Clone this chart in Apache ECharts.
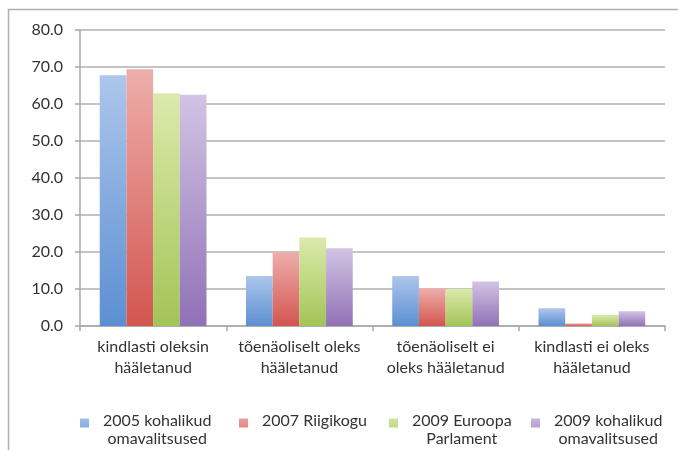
<!DOCTYPE html>
<html>
<head>
<meta charset="utf-8">
<script src="https://cdn.jsdelivr.net/npm/echarts@6/dist/echarts.min.js"></script>
<style>html,body{margin:0;padding:0;background:#fff;}#c{width:678px;height:450px;}</style>
</head>
<body>
<div id="c"></div>
<script>
const categories = ['kindlasti oleksin\nhääletanud', 'tõenäoliselt oleks\nhääletanud', 'tõenäoliselt ei\noleks hääletanud', 'kindlasti ei oleks\nhääletanud'];
const seriesNames = ['2005 kohalikud\nomavalitsused', '2007 Riigikogu', '2009 Euroopa\nParlament', '2009 kohalikud\nomavalitsused'];
const values2005 = [67.8, 13.5, 13.5, 4.8];
const values2007 = [69.4, 19.9, 10.2, 0.7];
const values2009ep = [62.9, 23.9, 10.0, 3.0];
const values2009kov = [62.5, 21.0, 12.0, 4.0];
const yTicks = [0, 10, 20, 30, 40, 50, 60, 70, 80];

const seriesValues = [values2005, values2007, values2009ep, values2009kov];
const gradients = [
  ['#adc6ec', '#5c8fd2'],
  ['#eeaeab', '#d3554f'],
  ['#dbeaab', '#a3c457'],
  ['#d2c4e4', '#9171b6']
];
const legendColors = ['#8fb0e0', '#e08480', '#c4da86', '#b09ccf'];
const legendLeft = [80, 239, 389, 531];
const font = 'Lato, "Open Sans", sans-serif';

const chart = echarts.init(document.getElementById('c'), null, {renderer: 'canvas'});

const legends = seriesNames.map((n, i) => ({
  data: [n],
  left: legendLeft[i],
  top: 412,
  orient: 'horizontal',
  itemWidth: 9,
  itemHeight: 36,
  itemGap: 0,
  icon: 'path://M0,0h0.05v0.05h-0.05z M0,6.5h9v9h-9z M0,35.95h0.05v0.05h-0.05z',
  selectedMode: false,
  padding: 0,
  formatter: function (name) {
    const lines = name.split('\n');
    if (lines.length < 2) lines.push(' ');
    return lines.map(l => '{c|' + l + '}').join('\n');
  },
  textStyle: {
    fontFamily: font,
    fontSize: 16,
    color: '#333',
    padding: [0, 0, 0, 9],
    rich: {c: {align: 'center', fontFamily: font, fontSize: 16, color: '#333', lineHeight: 18}}
  }
}));

const series = seriesValues.map((vals, i) => ({
  name: seriesNames[i],
  type: 'bar',
  data: vals,
  barGap: '0%',
  barCategoryGap: '27%',
  itemStyle: {
    color: new echarts.graphic.LinearGradient(0, 0, 0, 1, [
      {offset: 0, color: gradients[i][0]},
      {offset: 1, color: gradients[i][1]}
    ])
  },
  emphasis: {disabled: true}
}));

chart.setOption({
  animation: false,
  backgroundColor: '#fff',
  color: legendColors,
  graphic: [{
    type: 'rect',
    shape: {x: 8.5, y: 9.5, width: 720, height: 520},
    style: {fill: 'none', stroke: '#b0b0b0', lineWidth: 1.5},
    silent: true
  }],
  legend: legends,
  grid: {left: 80, right: 13, top: 30, bottom: 124},
  xAxis: {
    type: 'category',
    data: categories,
    axisLine: {lineStyle: {color: '#a8a8a8', width: 1.5}},
    axisTick: {show: true, length: 5, alignWithLabel: false, lineStyle: {color: '#a8a8a8', width: 1.5}},
    axisLabel: {margin: 10, fontFamily: font, fontSize: 16, color: '#333', lineHeight: 21, interval: 0}
  },
  yAxis: {
    type: 'value',
    min: yTicks[0],
    max: yTicks[yTicks.length - 1],
    interval: 10,
    axisLine: {show: true, lineStyle: {color: '#a8a8a8', width: 1.5}},
    axisTick: {show: true, length: 5, lineStyle: {color: '#a8a8a8', width: 1.5}},
    splitLine: {lineStyle: {color: '#b0b0b0', width: 1.5}},
    axisLabel: {margin: 17, fontFamily: font, fontSize: 16, color: '#333', formatter: v => v.toFixed(1)}
  },
  series: series
});
</script>
</body>
</html>
